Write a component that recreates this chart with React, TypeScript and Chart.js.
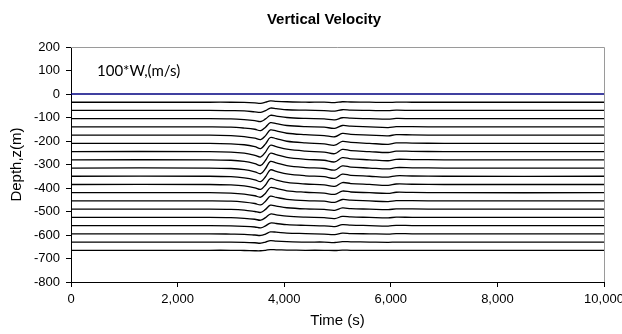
import React, { useEffect, useRef } from "react";
import { Chart, registerables } from "chart.js";

Chart.register(...registerables);

const TITLE = "Vertical Velocity";
const X_TITLE = "Time (s)";
const Y_TITLE = "Depth,z(m)";
const NOTE = "100*W,(m/s)";

const X_TICKS = [0, 2000, 4000, 6000, 8000, 10000];
const Y_TICKS = [200, 100, 0, -100, -200, -300, -400, -500, -600, -700, -800];

const TIME = [0, 2600, 3000, 3250, 3450, 3560, 3650, 3740, 3850, 4050, 4400, 4750, 4950, 5090, 5250, 5600, 5950, 6100, 6400, 7000, 10000];

const Z0 = [0, 0, 0, 0, 0, 0, 0, 0, 0, 0, 0, 0, 0, 0, 0, 0, 0, 0, 0, 0, 0];
const Z35 = [-35, -35, -35, -36, -38, -40, -35, -29, -31, -33, -35, -35, -37, -33, -34, -35, -36, -35, -35, -35, -35];
const Z70 = [-70, -70, -71, -72, -76, -78, -71, -60, -62, -67, -69, -71, -73, -67, -69, -70, -71, -69, -70, -70, -70];
const Z105 = [-105, -105, -106, -109, -113, -117, -106, -91, -94, -100, -104, -106, -110, -101, -103, -105, -107, -104, -105, -105, -105];
const Z140 = [-140, -140, -141, -145, -150, -156, -141, -122, -126, -134, -139, -141, -146, -134, -137, -140, -143, -139, -139, -140, -140];
const Z175 = [-175, -175, -177, -181, -188, -194, -177, -153, -157, -167, -173, -177, -182, -168, -172, -175, -178, -173, -174, -175, -175];
const Z210 = [-210, -210, -212, -216, -224, -232, -212, -185, -190, -201, -208, -212, -218, -202, -206, -210, -214, -208, -209, -210, -210];
const Z245 = [-245, -245, -247, -252, -261, -268, -247, -218, -224, -235, -243, -247, -254, -236, -241, -245, -249, -243, -244, -245, -245];
const Z280 = [-280, -280, -282, -287, -296, -304, -282, -252, -258, -270, -278, -282, -289, -271, -276, -280, -284, -278, -279, -280, -280];
const Z315 = [-315, -315, -317, -322, -331, -339, -317, -287, -293, -305, -313, -317, -324, -306, -311, -315, -319, -313, -314, -315, -315];
const Z350 = [-350, -350, -352, -357, -365, -373, -352, -323, -329, -340, -348, -352, -359, -341, -346, -350, -354, -348, -349, -350, -350];
const Z385 = [-385, -385, -387, -391, -399, -406, -387, -360, -366, -376, -383, -387, -393, -377, -381, -385, -389, -383, -384, -385, -385];
const Z420 = [-420, -420, -422, -426, -433, -439, -422, -398, -402, -412, -418, -422, -427, -413, -417, -420, -423, -418, -419, -420, -420];
const Z455 = [-455, -455, -456, -460, -466, -472, -456, -435, -440, -448, -454, -456, -461, -449, -452, -455, -458, -454, -454, -455, -455];
const Z490 = [-490, -490, -491, -494, -500, -504, -491, -473, -477, -484, -489, -491, -495, -485, -488, -490, -492, -489, -489, -490, -490];
const Z525 = [-525, -525, -526, -529, -533, -537, -526, -511, -514, -520, -524, -526, -530, -521, -523, -525, -527, -524, -525, -525, -525];
const Z560 = [-560, -560, -561, -563, -566, -570, -561, -549, -551, -556, -559, -561, -564, -556, -558, -560, -562, -559, -560, -560, -560];
const Z595 = [-595, -595, -596, -597, -600, -602, -596, -587, -588, -592, -594, -596, -598, -592, -594, -595, -596, -594, -595, -595, -595];
const Z630 = [-630, -630, -630, -631, -633, -635, -630, -624, -626, -628, -630, -630, -632, -628, -629, -630, -631, -630, -630, -630, -630];
const Z665 = [-665, -665, -665, -666, -667, -667, -665, -662, -663, -664, -665, -665, -666, -664, -665, -665, -665, -665, -665, -665, -665];

const SERIES = [Z0, Z35, Z70, Z105, Z140, Z175, Z210, Z245, Z280, Z315, Z350, Z385, Z420, Z455, Z490, Z525, Z560, Z595, Z630, Z665];
const SERIES_NAMES = ["z=0", "z=35", "z=70", "z=105", "z=140", "z=175", "z=210", "z=245", "z=280", "z=315", "z=350", "z=385", "z=420", "z=455", "z=490", "z=525", "z=560", "z=595", "z=630", "z=665"];

const FONT = "'Liberation Sans', Arial, sans-serif";

const fmt = (v: number) => {
  const s = Math.abs(v).toString().replace(/\B(?=(\d{3})+(?!\d))/g, ",");
  return (v < 0 ? "-" : "") + s;
};

const decor = {
  id: "decor",
  beforeDatasetsDraw(chart: any) {
    const { ctx, chartArea } = chart;
    ctx.save();
    ctx.strokeStyle = "#9a9a9a";
    ctx.lineWidth = 1;
    ctx.beginPath();
    ctx.moveTo(chartArea.left, chartArea.top + 0.5);
    ctx.lineTo(chartArea.right + 0.5, chartArea.top + 0.5);
    ctx.lineTo(chartArea.right + 0.5, chartArea.bottom);
    ctx.stroke();
    ctx.restore();
  },
  afterDraw(chart: any) {
    const { ctx, chartArea } = chart;
    ctx.save();
    ctx.fillStyle = "#000";
    ctx.font = `bold 15px ${FONT}`;
    ctx.textAlign = "center";
    ctx.textBaseline = "middle";
    ctx.fillText(TITLE, 324, 20);
    ctx.font = "15px Lato, 'Open Sans', sans-serif";
    ctx.textAlign = "left";
    ctx.fillText(NOTE, chartArea.left + 26, 71);
    ctx.restore();
  },
};

export default function App() {
  const ref = useRef<HTMLCanvasElement | null>(null);
  useEffect(() => {
    if (!ref.current) return;
    const datasets = SERIES.map((vals, i) => ({
      label: SERIES_NAMES[i],
      data: TIME.map((t, j) => ({ x: t, y: vals[j] })),
      borderColor: i === 0 ? "#000080" : "#000000",
      borderWidth: 1.3,
      pointRadius: 0,
      tension: 0.35,
      fill: false,
    }));
    const chart = new Chart(ref.current, {
      type: "line",
      data: { datasets },
      options: {
        animation: false,
        responsive: false,
        maintainAspectRatio: false,
        layout: { padding: { top: 47, right: 18, bottom: 0, left: 0 } },
        plugins: {
          legend: { display: false },
          title: { display: false },
          tooltip: { enabled: false },
        },
        scales: {
          x: {
            type: "linear",
            min: 0,
            max: 10000,
            afterBuildTicks: (s: any) => {
              s.ticks = X_TICKS.map((v) => ({ value: v }));
            },
            afterFit: (s: any) => {
              s.height = 52;
              s.paddingLeft = 0;
              s.paddingRight = 0;
            },
            ticks: {
              color: "#000",
              font: { family: FONT, size: 13 },
              padding: 5,
              maxRotation: 0,
              autoSkip: false,
              callback: (v: any) => fmt(Number(v)),
            },
            grid: { drawOnChartArea: false, drawTicks: true, tickLength: 5, color: "#000" },
            border: { display: true, color: "#000", width: 1 },
            title: {
              display: true,
              text: X_TITLE,
              color: "#000",
              font: { family: FONT, size: 15 },
              padding: { top: 0, bottom: 4 },
            },
          },
          y: {
            type: "linear",
            min: -800,
            max: 200,
            afterBuildTicks: (s: any) => {
              s.ticks = Y_TICKS.slice().reverse().map((v) => ({ value: v }));
            },
            afterFit: (s: any) => {
              s.width = 71;
              s.paddingTop = 0;
              s.paddingBottom = 0;
            },
            ticks: {
              color: "#000",
              font: { family: FONT, size: 13 },
              padding: 6,
              autoSkip: false,
              callback: (v: any) => fmt(Number(v)),
            },
            grid: { drawOnChartArea: false, drawTicks: true, tickLength: 5, color: "#000" },
            border: { display: true, color: "#000", width: 1 },
            title: {
              display: true,
              text: Y_TITLE,
              color: "#000",
              font: { family: FONT, size: 15 },
              padding: { top: 8, bottom: 0 },
            },
          },
        },
      },
      plugins: [decor],
    });
    return () => chart.destroy();
  }, []);
  return (
    <div style={{ position: "fixed", left: 0, top: 0, width: 622, height: 334, background: "#fff" }}>
      <canvas ref={ref} width={622} height={334} style={{ width: 622, height: 334, display: "block" }} />
    </div>
  );
}
